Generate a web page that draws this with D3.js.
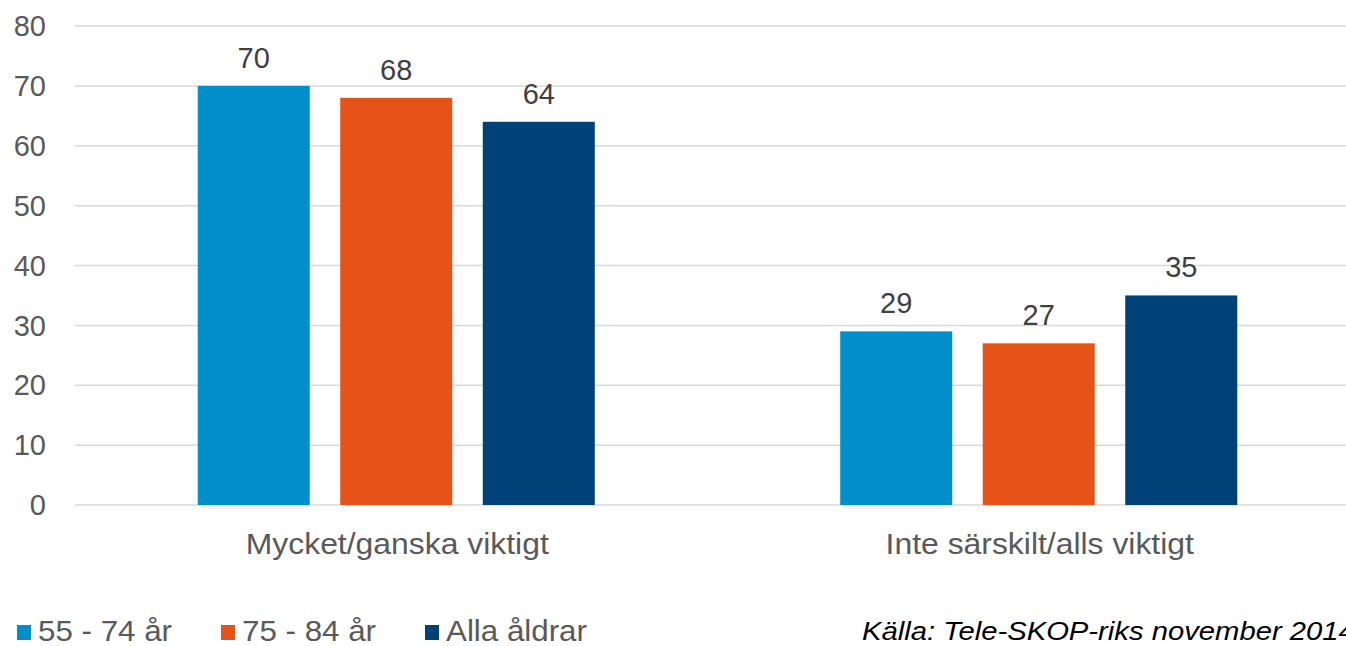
<!DOCTYPE html>
<html><head><meta charset="utf-8">
<script src="https://cdn.jsdelivr.net/npm/d3@7"></script>
<style>
body{margin:0;background:#fff;}
svg{display:block;font-family:"Liberation Sans",Arial,sans-serif;}
</style></head>
<body><svg id="c" width="1346" height="646"></svg>
<script>
const categories = ["Mycket/ganska viktigt", "Inte särskilt/alls viktigt"];
const seriesNames = ["55 - 74 år", "75 - 84 år", "Alla åldrar"];
const s1 = [70, 29];
const s2 = [68, 27];
const s3 = [64, 35];
const yTicks = [0, 10, 20, 30, 40, 50, 60, 70, 80];
const colors = ["#008FCB", "#E65318", "#004178"];
const source = "Källa: Tele-SKOP-riks november 2014";

const series = [s1, s2, s3];
const svg = d3.select("#c");
const W = 1346, H = 646;
const plotLeft = 75, plotRight = 1360, plotTop = 26, plotBottom = 505;

const y = d3.scaleLinear().domain([0, 80]).range([plotBottom, plotTop]);
const x0 = d3.scaleBand().domain(categories).range([plotLeft, plotRight]).padding(0);
const x1 = d3.scaleBand().domain(d3.range(series.length)).range([0, x0.bandwidth()])
  .paddingInner(0.214).paddingOuter(0.861);

// gridlines
svg.append("g").selectAll("line").data(yTicks).join("line")
  .attr("x1", plotLeft).attr("x2", W)
  .attr("y1", d => y(d)).attr("y2", d => y(d))
  .attr("stroke", "#D9D9D9").attr("stroke-width", 1.5);

// y tick labels
svg.append("g").selectAll("text").data(yTicks).join("text")
  .attr("x", 46).attr("y", d => y(d)).attr("dy", "0.35em")
  .attr("text-anchor", "end").attr("font-size", 29).attr("fill", "#595959")
  .text(d => d);

// bars
const groups = svg.append("g").selectAll("g").data(categories).join("g")
  .attr("transform", c => `translate(${x0(c)},0)`);
groups.selectAll("rect").data((c, ci) => series.map((s, si) => ({si, v: s[ci]}))).join("rect")
  .attr("x", d => x1(d.si)).attr("width", x1.bandwidth())
  .attr("y", d => y(d.v)).attr("height", d => y(0) - y(d.v))
  .attr("fill", d => colors[d.si]);
groups.selectAll("text").data((c, ci) => series.map((s, si) => ({si, v: s[ci]}))).join("text")
  .attr("x", d => x1(d.si) + x1.bandwidth() / 2).attr("y", d => y(d.v) - 18)
  .attr("text-anchor", "middle").attr("font-size", 29).attr("fill", "#404040")
  .text(d => d.v);

// category labels (slightly wide glyphs as in reference)
svg.append("g").selectAll("text").data(categories).join("text")
  .attr("transform", c => `translate(${x0(c) + x0.bandwidth() / 2 + 1},554) scale(1.1,1)`)
  .attr("text-anchor", "middle").attr("font-size", 29)
  .attr("fill", "#595959")
  .text(c => c);

// legend
const legX = [17, 221, 425];
const leg = svg.append("g").selectAll("g").data(seriesNames).join("g")
  .attr("transform", (d, i) => `translate(${legX[i]},0)`);
leg.append("rect").attr("x", 0).attr("y", 625).attr("width", 14).attr("height", 15)
  .attr("fill", (d, i) => colors[i]);
leg.append("text").attr("transform", "translate(21,641) scale(1.08,1)")
  .attr("font-size", 29)
  .attr("fill", "#595959")
  .text(d => d);

// source
svg.append("text").attr("transform", "translate(862,640) scale(1.17,1)")
  .attr("font-size", 25)
  .attr("font-style", "italic").attr("fill", "#000").text(source);
</script></body></html>
